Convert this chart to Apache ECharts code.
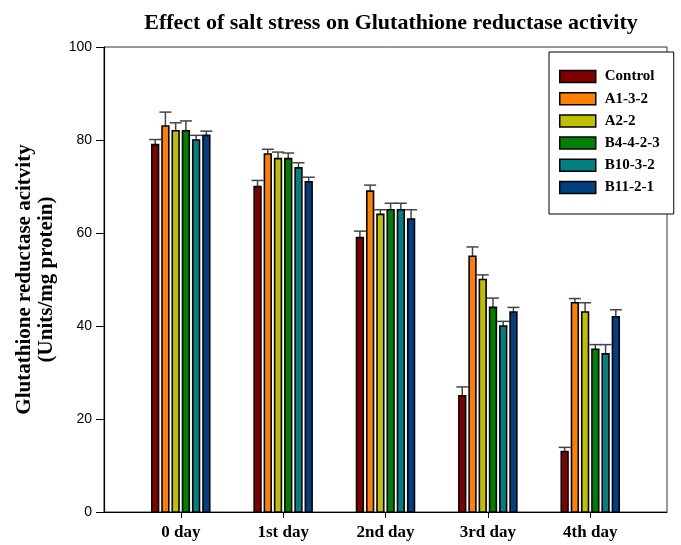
<!DOCTYPE html>
<html>
<head>
<meta charset="utf-8">
<script src="https://cdn.jsdelivr.net/npm/echarts@6/dist/echarts.min.js"></script>
<style>
  html, body { margin: 0; padding: 0; background: #fff; }
  #chart { width: 681px; height: 545px; }
</style>
</head>
<body>
<div id="chart"></div>
<script>
// Sampling days along the x axis
const days = ['0 day', '1st day', '2nd day', '3rd day', '4th day'];

// Strains / treatments
const groups = ['Control', 'A1-3-2', 'A2-2', 'B4-4-2-3', 'B10-3-2', 'B11-2-1'];

// Glutathione reductase activity (Units/mg protein), one value per day
const control  = [79, 70, 59, 25, 13];
const a1_3_2   = [83, 77, 69, 55, 45];
const a2_2     = [82, 76, 64, 50, 43];
const b4_4_2_3 = [82, 76, 65, 44, 35];
const b10_3_2  = [80, 74, 65, 40, 34];
const b11_2_1  = [81, 71, 63, 43, 42];

// Upper error (standard deviation) for each bar
const controlErr  = [1.1, 1.3, 1.4, 1.9, 0.9];
const a1_3_2Err   = [3.0, 1.0, 1.3, 2.0, 0.9];
const a2_2Err     = [1.7, 1.4, 1.0, 1.0, 2.0];
const b4_4_2_3Err = [2.1, 1.2, 1.4, 2.0, 1.0];
const b10_3_2Err  = [1.0, 1.1, 1.4, 1.0, 2.0];
const b11_2_1Err  = [0.9, 1.0, 2.0, 1.0, 1.5];

// Y axis ticks
const yTicks = [0, 20, 40, 60, 80, 100];

const values = [control, a1_3_2, a2_2, b4_4_2_3, b10_3_2, b11_2_1];
const errors = [controlErr, a1_3_2Err, a2_2Err, b4_4_2_3Err, b10_3_2Err, b11_2_1Err];
const colors = ['#7f0000', '#ff8000', '#c0c000', '#008000', '#008080', '#004080'];

const SLOT = 0.1;        // spacing between bars in a day group (axis units)
const BAR_W = 0.066;     // bar width (axis units)
const CAP_HALF = 6;      // half width of the error-bar cap (px)

function makeSeries(idx) {
  const data = days.map((d, j) => [j, values[idx][j], errors[idx][j]]);
  return {
    name: groups[idx],
    type: 'custom',
    itemStyle: { color: colors[idx], borderColor: '#000', borderWidth: 1.5 },
    encode: { x: 0, y: 1 },
    data: data,
    renderItem: function (params, api) {
      const x = api.value(0) + (idx - 2.5) * SLOT;
      const v = api.value(1);
      const e = api.value(2);
      const top = api.coord([x, v]);
      const base = api.coord([x, 0]);
      const errTop = api.coord([x, v + e]);
      const w = api.size([BAR_W, 0])[0];
      return {
        type: 'group',
        children: [
          {
            type: 'line',
            shape: { x1: top[0], y1: top[1], x2: errTop[0], y2: errTop[1] },
            style: { stroke: '#444', lineWidth: 1.5 }
          },
          {
            type: 'line',
            shape: { x1: errTop[0] - CAP_HALF, y1: errTop[1], x2: errTop[0] + CAP_HALF, y2: errTop[1] },
            style: { stroke: '#444', lineWidth: 1.5 }
          },
          {
            type: 'rect',
            shape: { x: top[0] - w / 2, y: top[1], width: w, height: base[1] - top[1] },
            style: { fill: colors[idx], stroke: '#000', lineWidth: 1.6 }
          }
        ]
      };
    }
  };
}

const chart = echarts.init(document.getElementById('chart'), null, { renderer: 'canvas' });

chart.setOption({
  animation: false,
  backgroundColor: '#fff',
  title: {
    text: 'Effect of salt stress on Glutathione reductase activity',
    left: 386,
    textAlign: 'center',
    top: 7,
    textStyle: { fontFamily: 'Liberation Serif', fontWeight: 'bold', fontSize: 22, color: '#000' }
  },
  grid: {
    left: 104, right: 14, top: 47, bottom: 33,
    show: true, borderColor: '#333', borderWidth: 1
  },
  legend: {
    orient: 'vertical',
    left: 549, top: 52,
    data: groups,
    icon: 'rect',
    itemWidth: 36,
    itemHeight: 12,
    itemGap: 7.2,
    padding: [17, 14, 19, 10],
    backgroundColor: '#fff',
    borderColor: '#000',
    borderWidth: 1,
    itemStyle: { borderColor: '#000', borderWidth: 1.5 },
    textStyle: { fontFamily: 'Liberation Serif', fontWeight: 'bold', fontSize: 15, lineHeight: 14, color: '#000', padding: [0, 0, 0, 4] }
  },
  xAxis: {
    type: 'value',
    min: -0.75,
    max: 4.75,
    splitLine: { show: false },
    axisLine: { onZero: false, lineStyle: { color: '#000', width: 1.2 } },
    axisTick: { customValues: [0, 1, 2, 3, 4], length: 6, lineStyle: { color: '#000' } },
    axisLabel: {
      customValues: [0, 1, 2, 3, 4],
      formatter: function (v) { return days[Math.round(v)]; },
      margin: 12,
      fontFamily: 'Liberation Serif', fontWeight: 'bold', fontSize: 17, color: '#000'
    }
  },
  yAxis: {
    type: 'value',
    min: 0,
    max: 100,
    interval: 20,
    name: 'Glutathione reductase acitvity\n(Units/mg protein)',
    nameLocation: 'middle',
    nameGap: 45,
    nameTextStyle: { fontFamily: 'Liberation Serif', fontWeight: 'bold', fontSize: 21, lineHeight: 22, color: '#000' },
    splitLine: { show: false },
    axisLine: { show: true, onZero: false, lineStyle: { color: '#000', width: 1.2 } },
    axisTick: { show: true, length: 8, lineStyle: { color: '#000' } },
    axisLabel: {
      customValues: yTicks,
      margin: 12,
      fontFamily: 'Liberation Sans', fontSize: 14, color: '#000'
    }
  },
  series: groups.map((g, i) => makeSeries(i))
});
</script>
</body>
</html>
